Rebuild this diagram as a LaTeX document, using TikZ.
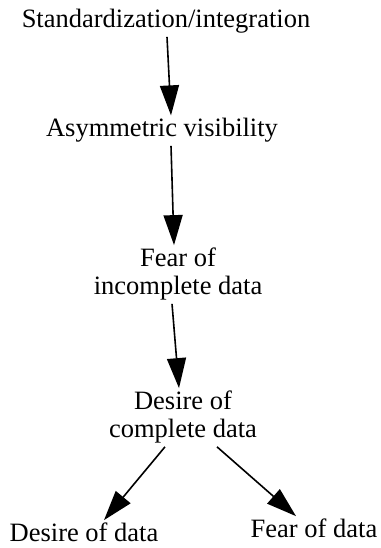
\documentclass[tikz,border=0pt]{standalone}
\usepackage{fontspec}
\setmainfont{Liberation Serif}
\usetikzlibrary{arrows.meta}
\tikzset{
    LABEL/.style={inner sep=3pt, align=center, anchor=base,
        font={\fontsize{26.5}{28}\selectfont}},
    EDGE/.style={draw=black, line width=1.6pt,
        -{Triangle[length=30pt, width=19pt]}}
}

\begin{document}
\begin{tikzpicture}[x=1pt, y=1pt]
    \useasboundingbox (0,0) rectangle (380,548);
    \node [LABEL] (std) at (166, 520) {Standardization/integration};
    \node [LABEL] (asym) at (162, 411) {Asymmetric visibility};
    \node [LABEL] (fearinc) at (178, 253) {Fear of\\incomplete data};
    \node [LABEL] (descom) at (183, 110) {Desire of\\complete data};
    \node [LABEL] (desdata) at (84, 6) {Desire of data};
    \node [LABEL] (feardata) at (314, 10) {Fear of data};

    \draw[EDGE] ([xshift=1pt]std.south) to ([xshift=9pt]asym.north);
    \draw[EDGE] ([xshift=9pt]asym.south) to ([xshift=-4pt]fearinc.north);
    \draw[EDGE] ([xshift=-6pt]fearinc.south) to ([xshift=-4pt]descom.north);
    \draw[EDGE] ([xshift=-18pt]descom.south) to ([xshift=20pt]desdata.north);
    \draw[EDGE] ([xshift=34pt]descom.south) to ([xshift=-18pt]feardata.north);
\end{tikzpicture}
\end{document}
